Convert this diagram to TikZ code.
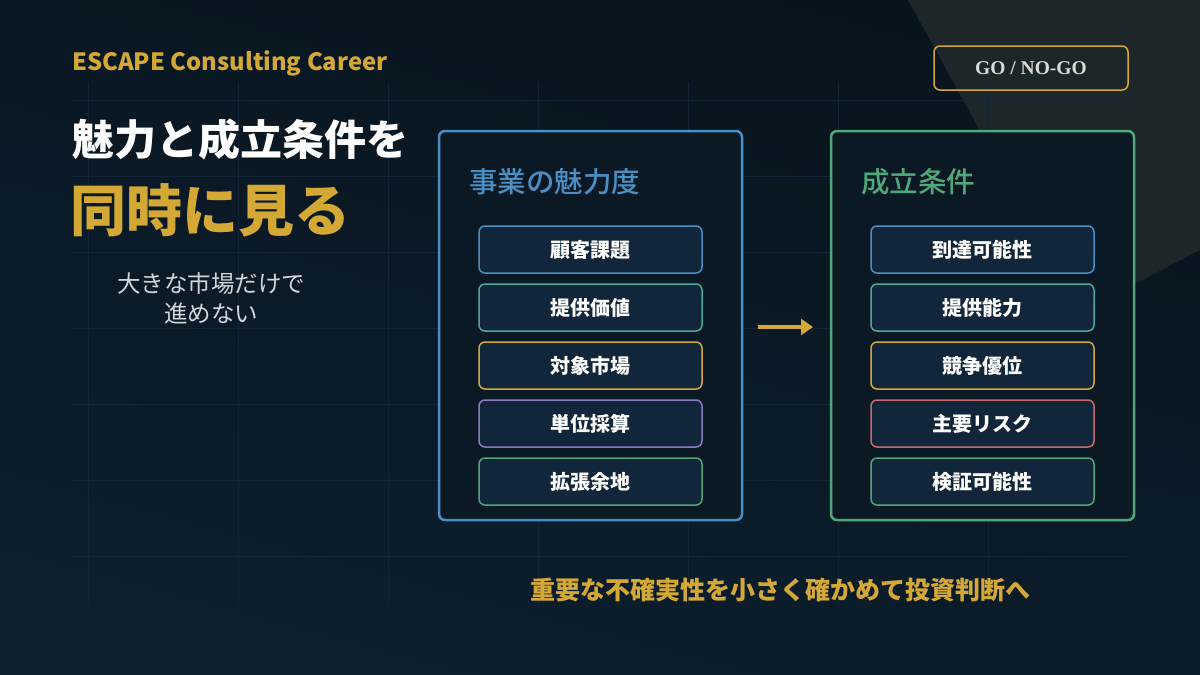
\documentclass[tikz,border=0pt]{standalone}
\usepackage{fontspec}
\setmainfont{Noto Sans CJK JP}
\newfontfamily\jpmed{Noto Sans CJK JP Medium}
\newfontfamily\gofont{Liberation Serif}
\usetikzlibrary{arrows.meta}
\definecolor{bgA}{HTML}{08141D}
\definecolor{bgB}{HTML}{0C1F2E}
\definecolor{tri}{HTML}{1D2729}
\definecolor{gridc}{HTML}{122536}
\definecolor{panel}{HTML}{0B1925}
\definecolor{item}{HTML}{11263A}
\definecolor{cblue}{HTML}{4A8FC4}
\definecolor{cteal}{HTML}{4AA89A}
\definecolor{cgold}{HTML}{D4A835}
\definecolor{cpurp}{HTML}{8A7CC0}
\definecolor{cgreen}{HTML}{4FA87A}
\definecolor{cred}{HTML}{C96A6A}
\definecolor{softw}{HTML}{D2D6DA}
\definecolor{gotext}{HTML}{D9DCD6}
\tikzset{
  gridline/.style={draw=gridc, line width=1pt},
  panelbox/.style={draw=#1, line width=2.5pt, fill=panel, rounded corners=6pt},
  itembox/.style={draw=#1, line width=1.5pt, fill=item, rounded corners=6pt,
    minimum width=223pt, minimum height=47pt, inner sep=0pt,
    text=white, font=\fontsize{20}{22}\selectfont\bfseries},
  paneltitle/.style={anchor=west, inner sep=0pt, text=#1, font=\jpmed\fontsize{28.5}{32}\selectfont},
}
\begin{document}
\begin{tikzpicture}[x=1pt,y=-1pt]
\useasboundingbox (0,0) rectangle (1200,675);
\shade[top color=bgA, bottom color=bgB, shading angle=-15] (0,0) rectangle (1200,675);
\fill[tri] (908,0) -- (1200,0) -- (1200,250) -- (1080,312) -- cycle;
% grid
\foreach \x in {88,238,...,988} \draw[gridline] (\x,82) -- (\x,605);
\foreach \y in {100,176,...,556} \draw[gridline] (72,\y) -- (1128,\y);
% header
\node[anchor=base west, inner sep=0pt, text=cgold, font=\fontsize{23.8}{26}\selectfont\bfseries] (brand) at (72,70) {ESCAPE Consulting Career};
\node[draw=cgold, line width=1.5pt, rounded corners=6pt, minimum width=194pt, minimum height=44pt, inner sep=0pt,
  text=gotext, font=\gofont\fontsize{19.5}{22}\selectfont\bfseries] (go) at (1031,68) {GO / NO-GO};
% left titles
\node[anchor=west, inner sep=0pt, text=white, font=\fontsize{42}{46}\selectfont\bfseries] (t1) at (72,139) {魅力と成立条件を};
\node[anchor=west, inner sep=0pt, text=cgold, font=\fontsize{56}{62}\selectfont\bfseries] (t2) at (70,210) {同時に見る};
\node[inner sep=0pt, text=softw, align=center, font=\fontsize{23.5}{30}\selectfont] (sub) at (211,298) {大きな市場だけで\\進めない};
% panels
\draw[panelbox=cblue] (439,131) rectangle (742,520);
\coordinate (pL) at (742,327);
\draw[panelbox=cgreen] (831,131) rectangle (1134,520);
\coordinate (pR) at (831,327);
\node[paneltitle=cblue] (lt) at (469,182) {事業の魅力度};
\node[paneltitle=cgreen] (rt) at (861,182) {成立条件};
% left items
\node[itembox=cblue]  (l1) at (590.5,249.5) {顧客課題};
\node[itembox=cteal]  (l2) at (590.5,307.5) {提供価値};
\node[itembox=cgold]  (l3) at (590.5,365.5) {対象市場};
\node[itembox=cpurp]  (l4) at (590.5,423.5) {単位採算};
\node[itembox=cgreen] (l5) at (590.5,481.5) {拡張余地};
% right items
\node[itembox=cblue]  (r1) at (982.5,249.5) {到達可能性};
\node[itembox=cteal]  (r2) at (982.5,307.5) {提供能力};
\node[itembox=cgold]  (r3) at (982.5,365.5) {競争優位};
\node[itembox=cred]   (r4) at (982.5,423.5) {主要リスク};
\node[itembox=cgreen] (r5) at (982.5,481.5) {検証可能性};
% arrow
\coordinate (a1) at (758,327);
\coordinate (a2) at (813,327);
\draw[cgold, line width=3.5pt, -{Triangle[length=12pt,width=16pt]}] (a1) -- (a2);
% bottom
\node[inner sep=0pt, text=cgold, font=\fontsize{25}{28}\selectfont\bfseries] (bottom) at (780,590) {重要な不確実性を小さく確かめて投資判断へ};
\end{tikzpicture}
\end{document}
